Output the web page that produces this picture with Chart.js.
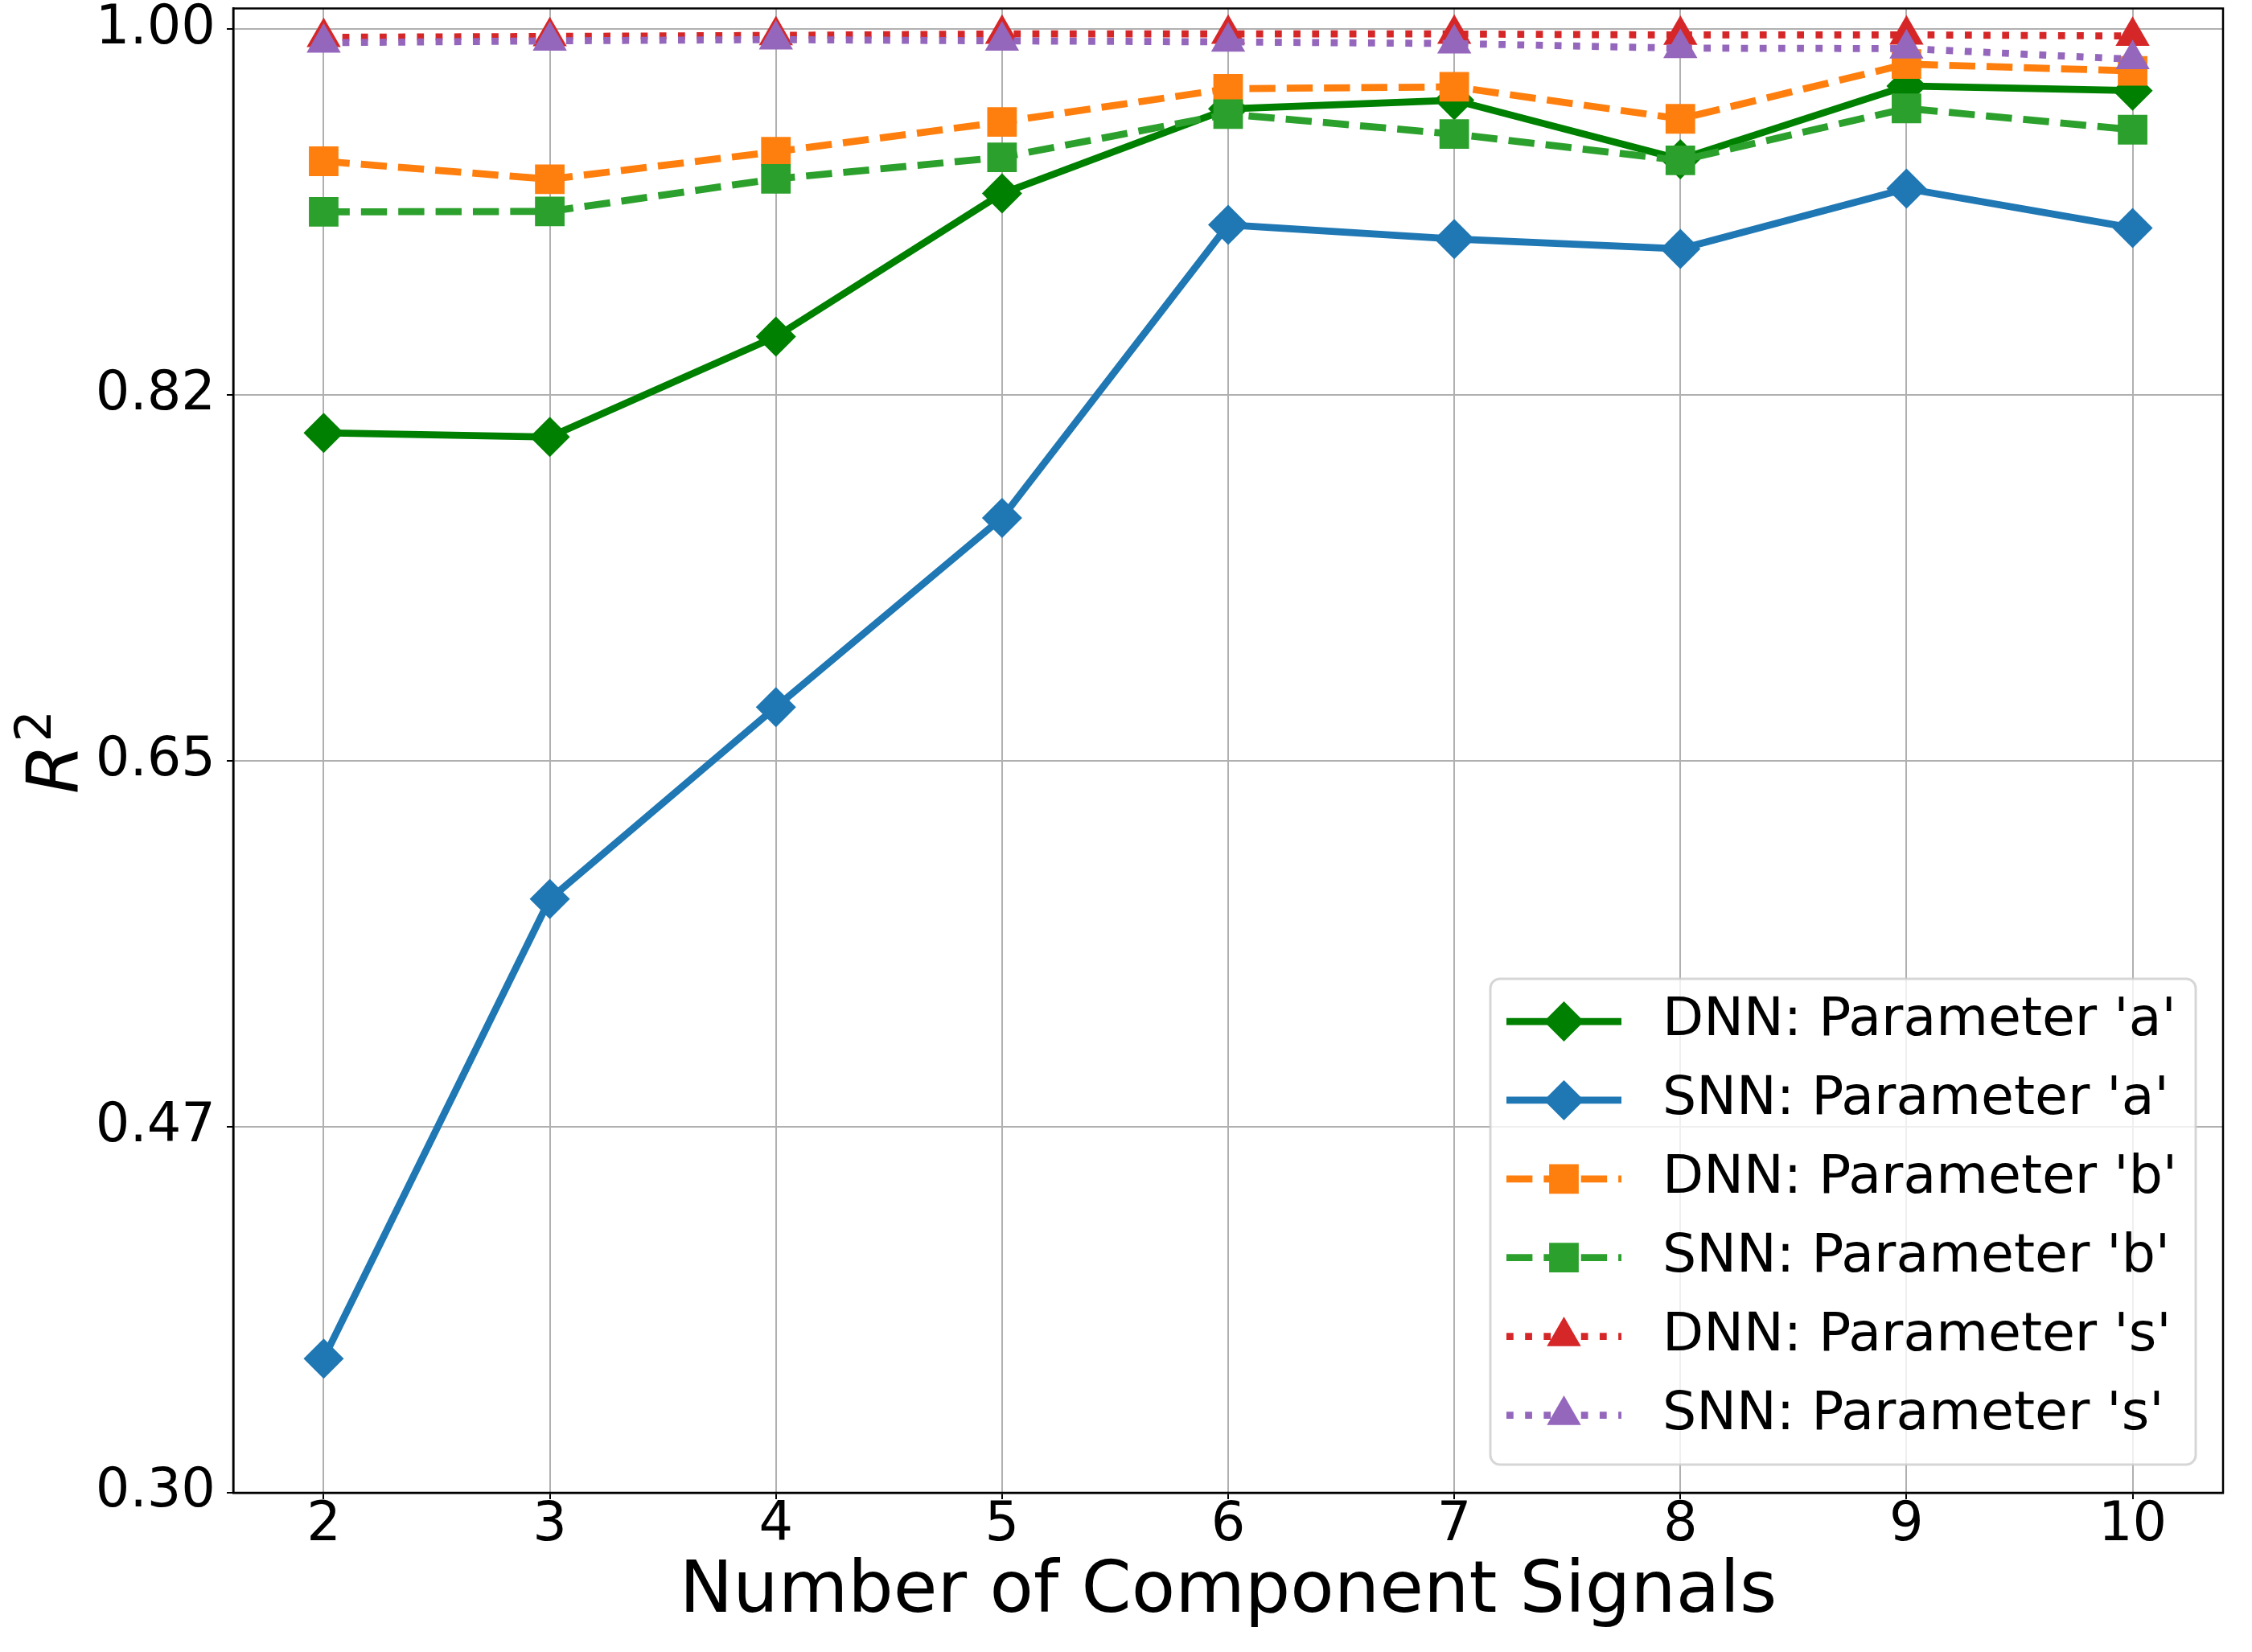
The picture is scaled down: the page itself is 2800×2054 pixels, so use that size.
<!DOCTYPE html>
<html>
<head>
<meta charset="utf-8">
<script src="https://cdn.jsdelivr.net/npm/chart.js@4.4.0/dist/chart.umd.min.js"></script>
<style>
  html, body { margin: 0; padding: 0; background: #fff; }
  canvas { display: block; }
</style>
</head>
<body>
<canvas id="chart-r2" width="2800" height="2054" style="width:2800px;height:2054px"></canvas>
<script>
// values
const components = [2, 3, 4, 5, 6, 7, 8, 9, 10];
const dnnA = [0.807, 0.805, 0.853, 0.9215, 0.962, 0.9661, 0.9379, 0.9729, 0.9707];
const snnA = [0.3642, 0.584, 0.6758, 0.7663, 0.9065, 0.8997, 0.895, 0.9238, 0.905];
const dnnB = [0.9369, 0.9283, 0.9415, 0.9557, 0.9716, 0.9725, 0.9572, 0.9834, 0.9801];
const snnB = [0.9127, 0.9129, 0.9285, 0.9388, 0.9595, 0.9499, 0.9373, 0.9622, 0.952];
const dnnS = [0.9962, 0.9966, 0.9971, 0.9978, 0.9978, 0.9978, 0.9973, 0.9974, 0.9968];
const snnS = [0.9936, 0.9945, 0.9951, 0.9945, 0.994, 0.9932, 0.991, 0.9908, 0.9857];

const xTicks = [2, 3, 4, 5, 6, 7, 8, 9, 10];
const yTickValues = [0.3, 0.475, 0.65, 0.825, 1.0];
const yTickLabels = ["0.30", "0.47", "0.65", "0.82", "1.00"];

const FONT = "'DejaVu Sans', 'Liberation Sans', sans-serif";
const LW = 8.75;
const dashed = [3.7 * LW, 1.6 * LW];
const dotted = [LW, 1.65 * LW];

function series(label, values, color, dash, style, radius) {
  return {
    label: label,
    data: values.map((v, i) => ({ x: components[i], y: v })),
    borderColor: color,
    backgroundColor: color,
    borderWidth: LW,
    borderDash: dash,
    borderCapStyle: "butt",
    borderJoinStyle: "round",
    tension: 0,
    fill: false,
    pointStyle: style,
    pointRadius: radius,
    pointHoverRadius: radius,
    pointBackgroundColor: color,
    pointBorderWidth: 0,
  };
}

const datasets = [
  series("DNN: Parameter 'a'", dnnA, "#008000", [], "rectRot", 25),
  series("SNN: Parameter 'a'", snnA, "#1f77b4", [], "rectRot", 25),
  series("DNN: Parameter 'b'", dnnB, "#ff7f0e", dashed, "rect", 26),
  series("SNN: Parameter 'b'", snnB, "#2ca02c", dashed, "rect", 26),
  series("DNN: Parameter 's'", dnnS, "#d62728", dotted, "triangle", 24.5),
  series("SNN: Parameter 's'", snnS, "#9467bd", dotted, "triangle", 24.5),
];
// later series sit on top, as in the original plot
datasets.forEach((ds, i) => { ds.order = datasets.length - i; });

// legend box in the lower right of the plot area
const legendBox = { left: 1853, top: 1217, right: 2730, bottom: 1821 };
const legendRow0 = 1270;
const legendRowStep = 97.9;
const handleX0 = 1873, handleX1 = 2016, markerX = 1944.5, textX = 2067;

function roundedRect(c, x0, y0, x1, y1, r) {
  c.beginPath();
  c.moveTo(x0 + r, y0);
  c.lineTo(x1 - r, y0);
  c.arcTo(x1, y0, x1, y0 + r, r);
  c.lineTo(x1, y1 - r);
  c.arcTo(x1, y1, x1 - r, y1, r);
  c.lineTo(x0 + r, y1);
  c.arcTo(x0, y1, x0, y1 - r, r);
  c.lineTo(x0, y0 + r);
  c.arcTo(x0, y0, x0 + r, y0, r);
  c.closePath();
}

const frameAndLegend = {
  id: "frameAndLegend",
  afterDraw(chart) {
    const c = chart.ctx;
    const a = chart.chartArea;
    c.save();
    c.strokeStyle = "#000";
    c.lineWidth = 2.5;
    c.setLineDash([]);
    c.strokeRect(a.left, a.top, a.right - a.left, a.bottom - a.top);

    // y axis label: italic R with a raised 2
    c.save();
    c.translate(97, (a.top + a.bottom) / 2 + 54);
    c.rotate(-Math.PI / 2);
    c.fillStyle = "#000";
    c.textBaseline = "alphabetic";
    c.textAlign = "left";
    c.font = "italic 89px " + FONT;
    c.fillText("R", 0, 0);
    const rw = c.measureText("R").width;
    c.font = "62px " + FONT;
    c.fillText("2", rw + 3, -34);
    c.restore();

    roundedRect(c, legendBox.left, legendBox.top, legendBox.right, legendBox.bottom, 12);
    c.fillStyle = "rgba(255,255,255,0.8)";
    c.fill();
    c.strokeStyle = "rgba(204,204,204,0.8)";
    c.lineWidth = 3;
    c.stroke();

    chart.data.datasets.forEach((ds, i) => {
      const y = legendRow0 + i * legendRowStep;
      c.strokeStyle = ds.borderColor;
      c.lineWidth = ds.borderWidth;
      c.lineCap = "butt";
      c.setLineDash(ds.borderDash || []);
      c.beginPath();
      c.moveTo(handleX0, y);
      c.lineTo(handleX1, y);
      c.stroke();
      c.setLineDash([]);
      c.fillStyle = ds.pointBackgroundColor;
      if (Chart.helpers && Chart.helpers.drawPoint) {
        Chart.helpers.drawPoint(c, { pointStyle: ds.pointStyle, radius: ds.pointRadius, rotation: 0, borderWidth: 0 }, markerX, y);
      } else {
        c.beginPath();
        c.arc(markerX, y, ds.pointRadius * 0.7, 0, Math.PI * 2);
        c.fill();
      }
      c.fillStyle = "#000";
      c.font = "66.5px " + FONT;
      c.textBaseline = "middle";
      c.textAlign = "left";
      c.fillText(ds.label, textX, y);
    });
    c.restore();
  },
};

const ctx = document.getElementById("chart-r2").getContext("2d");
const r2Chart = new Chart(ctx, {
  type: "line",
  data: { datasets: datasets },
  plugins: [frameAndLegend],
  options: {
    responsive: false,
    animation: false,
    devicePixelRatio: 1,
    layout: { autoPadding: false, padding: { top: 10.5, right: 36, left: 0, bottom: 0 } },
    plugins: {
      legend: { display: false },
      tooltip: { enabled: false },
    },
    scales: {
      x: {
        type: "linear",
        min: 1.6,
        max: 10.4,
        afterBuildTicks: (scale) => {
          scale.ticks = xTicks.map((v) => ({ value: v }));
        },
        afterFit: (scale) => {
          scale.height = 198;
          scale.paddingLeft = 0;
          scale.paddingRight = 0;
        },
        ticks: {
          autoSkip: false,
          maxRotation: 0,
          color: "#000",
          padding: 5,
          font: { family: FONT, size: 67, lineHeight: 0.84 },
          callback: (value) => String(value),
        },
        grid: { color: "#b0b0b0", lineWidth: 2, tickColor: "#000", tickLength: 8, tickWidth: 2 },
        border: { color: "#000", width: 2.5 },
        title: {
          display: true,
          text: "Number of Component Signals",
          color: "#000",
          font: { family: FONT, size: 89, lineHeight: 1.2 },
          padding: { top: 0, bottom: 20 },
        },
      },
      y: {
        min: 0.3,
        max: 1.01,
        afterBuildTicks: (scale) => {
          scale.ticks = yTickValues.map((v) => ({ value: v }));
        },
        afterFit: (scale) => {
          scale.width = 290;
          scale.paddingTop = 0;
          scale.paddingBottom = 0;
        },
        ticks: {
          autoSkip: false,
          color: "#000",
          padding: 14,
          font: { family: FONT, size: 67, lineHeight: 1.2 },
          callback: (value, index) => yTickLabels[index],
        },
        grid: { color: "#b0b0b0", lineWidth: 2, tickColor: "#000", tickLength: 8, tickWidth: 2 },
        border: { color: "#000", width: 2.5 },
        title: { display: false },
      },
    },
  },
});
</script>
</body>
</html>
